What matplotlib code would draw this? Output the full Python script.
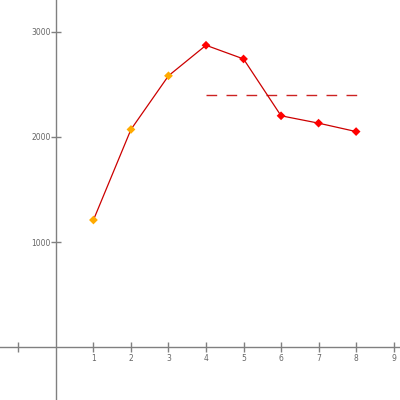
import matplotlib.pyplot as plt

# data
x_vals = [1, 2, 3, 4, 5, 6, 7, 8]
y_vals = [1210, 2070, 2580, 2870, 2740, 2200, 2130, 2050]
point_colors = ["#ffaa00", "#ffaa00", "#ffaa00", "#ff0000", "#ff0000", "#ff0000", "#ff0000", "#ff0000"]
ref_x = [4, 8.05]
ref_y = [2400, 2400]
x_ticks = [-1, 1, 2, 3, 4, 5, 6, 7, 8, 9]
x_tick_labels = ["", "1", "2", "3", "4", "5", "6", "7", "8", "9"]
y_ticks = [1000, 2000, 3000]

axis_col = "#808080"

fig = plt.figure(figsize=(4, 4), dpi=100)
ax = fig.add_axes([0, 0, 1, 1])
ax.set_xlim(-1.49, 9.17)
ax.set_ylim(-500, 3300)

for side in ["top", "right"]:
    ax.spines[side].set_visible(False)
for side in ["left", "bottom"]:
    ax.spines[side].set_position(("data", 0))
    ax.spines[side].set_color(axis_col)
    ax.spines[side].set_linewidth(1)

ax.plot(x_vals, y_vals, color="#cc0000", linewidth=0.9, zorder=2)
ax.scatter(x_vals, y_vals, c=point_colors, marker="D", s=20, zorder=3, linewidths=0)
ax.plot(ref_x, ref_y, color="#cc2222", linewidth=1, dashes=(7.7, 6.7), zorder=1)

ax.set_xticks(x_ticks)
ax.set_xticklabels(x_tick_labels)
ax.set_yticks(y_ticks)
ax.set_yticklabels([str(v) for v in y_ticks])
ax.tick_params(axis="both", direction="inout", length=7, width=1, color=axis_col,
               labelcolor="#666666", labelsize=5.5)
ax.tick_params(axis="x", pad=1)
ax.tick_params(axis="y", pad=0)

fig.savefig("out.png", dpi=100)
